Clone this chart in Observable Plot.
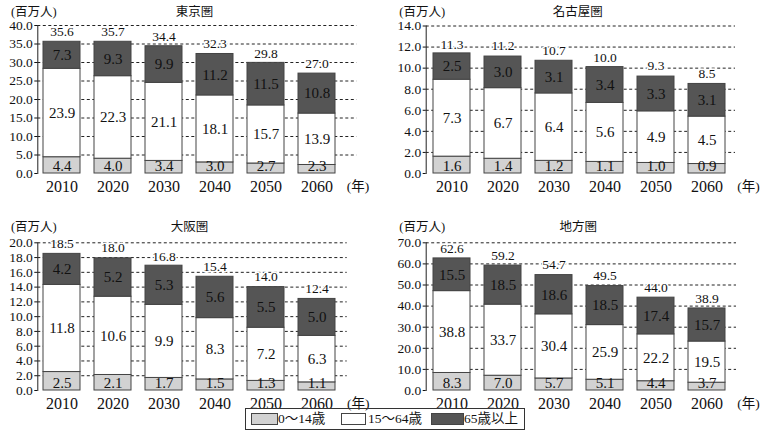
<!DOCTYPE html>
<html><head><meta charset="utf-8">
<script src="https://cdn.jsdelivr.net/npm/d3@7"></script>
<script src="https://cdn.jsdelivr.net/npm/@observablehq/plot@0.6"></script>
<style>
body{margin:0;background:#fff;}
#wrap{position:relative;width:763px;height:435px;font-family:'Liberation Serif','Noto Sans CJK JP',serif;color:#111;overflow:hidden;}
.panel{position:absolute;}
#legend{position:absolute;left:245px;top:408px;width:280px;height:22px;border:1px solid #333;font-size:13.5px;box-sizing:border-box;white-space:nowrap;}
#legend .sw{position:absolute;top:4px;height:12px;border:1px solid #444;box-sizing:border-box;}
#legend .lt{position:absolute;top:0px;line-height:20px;}
</style></head><body><div id="wrap"></div>
<script>
const FONT = "'Liberation Serif','Noto Sans CJK JP',serif";
const years = [2010, 2020, 2030, 2040, 2050, 2060];
const groups = ["0～14歳", "15～64歳", "65歳以上"];
const groupFill = ["#d2d2d2", "#ffffff", "#555555"];

const tokyoYoung = [4.4, 4.0, 3.4, 3.0, 2.7, 2.3];
const tokyoMid   = [23.9, 22.3, 21.1, 18.1, 15.7, 13.9];
const tokyoOld   = [7.3, 9.3, 9.9, 11.2, 11.5, 10.8];
const tokyoTotal = [35.6, 35.7, 34.4, 32.3, 29.8, 27.0];

const nagoyaYoung = [1.6, 1.4, 1.2, 1.1, 1.0, 0.9];
const nagoyaMid   = [7.3, 6.7, 6.4, 5.6, 4.9, 4.5];
const nagoyaOld   = [2.5, 3.0, 3.1, 3.4, 3.3, 3.1];
const nagoyaTotal = [11.3, 11.2, 10.7, 10.0, 9.3, 8.5];

const osakaYoung = [2.5, 2.1, 1.7, 1.5, 1.3, 1.1];
const osakaMid   = [11.8, 10.6, 9.9, 8.3, 7.2, 6.3];
const osakaOld   = [4.2, 5.2, 5.3, 5.6, 5.5, 5.0];
const osakaTotal = [18.5, 18.0, 16.8, 15.4, 14.0, 12.4];

const localYoung = [8.3, 7.0, 5.7, 5.1, 4.4, 3.7];
const localMid   = [38.8, 33.7, 30.4, 25.9, 22.2, 19.5];
const localOld   = [15.5, 18.5, 18.6, 18.5, 17.4, 15.7];
const localTotal = [62.6, 59.2, 54.7, 49.5, 44.0, 38.9];

const tokyoTicks  = [0, 5, 10, 15, 20, 25, 30, 35, 40];
const nagoyaTicks = [0, 2, 4, 6, 8, 10, 12, 14];
const osakaTicks  = [0, 2, 4, 6, 8, 10, 12, 14, 16, 18, 20];
const localTicks  = [0, 10, 20, 30, 40, 50, 60, 70];

const unitLabel = "(百万人)";
const yearLabel = "(年)";

const panels = [
  {title:"東京圏", young:tokyoYoung, mid:tokyoMid, old:tokyoOld, total:tokyoTotal, ticks:tokyoTicks,
   left:0, top:0, width:380, mL:37.3, mR:23.5, mT:25, mB:27, iL:6, iR:16.5, titleY:11, yearDx:1},
  {title:"名古屋圏", young:nagoyaYoung, mid:nagoyaMid, old:nagoyaOld, total:nagoyaTotal, ticks:nagoyaTicks,
   left:380, top:0, width:383, mL:45.7, mR:28, mT:25.5, mB:27, iL:7.6, iR:6, titleY:11, yearDx:13},
  {title:"大阪圏", young:osakaYoung, mid:osakaMid, old:osakaOld, total:osakaTotal, ticks:osakaTicks,
   left:0, top:215, width:380, mL:37.3, mR:33.3, mT:27.3, mB:25, iL:6, iR:6.7, titleY:11.2, yearDx:11},
  {title:"地方圏", young:localYoung, mid:localMid, old:localOld, total:localTotal, ticks:localTicks,
   left:380, top:215, width:383, mL:45.7, mR:27, mT:27.3, mB:25, iL:7, iR:6.7, titleY:11.2, yearDx:12}
];

const wrap = document.getElementById("wrap");

function build(cfg) {
  const rows = [];
  years.forEach((yr, i) => {
    rows.push({year: yr, group: groups[0], value: cfg.young[i], fill: groupFill[0]});
    rows.push({year: yr, group: groups[1], value: cfg.mid[i], fill: groupFill[1]});
    rows.push({year: yr, group: groups[2], value: cfg.old[i], fill: groupFill[2]});
  });
  const labels = years.map((yr, i) => ({
    year: yr, young: cfg.young[i], mid: cfg.mid[i], old: cfg.old[i], total: cfg.total[i],
    midPos: cfg.young[i] + cfg.mid[i] / 2,
    oldPos: cfg.young[i] + cfg.mid[i] + cfg.old[i] / 2
  }));
  const ymax = cfg.ticks[cfg.ticks.length - 1];
  const svg = Plot.plot({
    width: cfg.width, height: 200,
    marginLeft: cfg.mL, marginRight: cfg.mR, marginTop: cfg.mT, marginBottom: cfg.mB,
    style: {fontFamily: FONT, fontSize: "13px", background: "transparent", overflow: "visible", color: "#111"},
    x: {type: "band", domain: years, insetLeft: cfg.iL, insetRight: cfg.iR, paddingInner: 0.265, paddingOuter: 0, align: 0},
    y: {domain: [0, ymax]},
    marks: [
      Plot.ruleY(cfg.ticks.filter(t => t > 0), {stroke: "#222", strokeDasharray: "3,2.5", strokeWidth: 1}),
      Plot.barY(rows, Plot.stackY({x: "year", y: "value", z: "group", fill: "fill", stroke: "#444", strokeWidth: 1})),
      Plot.frame({anchor: "left", stroke: "#222"}),
      Plot.axisY({ticks: cfg.ticks, tickFormat: d => d.toFixed(1), tickSize: 3, tickPadding: 2, fontSize: 13.5, label: null}),
      Plot.axisX({tickSize: 0, tickPadding: 7, fontSize: 16, label: null, tickFormat: d => String(d)}),
      Plot.text(labels, {x: "year", y: "midPos", text: d => d.mid.toFixed(1), fontSize: 15, fill: "#111"}),
      Plot.text(labels, {x: "year", y: "oldPos", text: d => d.old.toFixed(1), fontSize: 15, fill: "#111", ariaLabel: "boxed"}),
      Plot.text(labels, {x: "year", y: () => 0, dy: -7, text: d => d.young.toFixed(1), fontSize: 15, fill: "#111", ariaLabel: "boxed"}),
      Plot.text(labels, {x: "year", y: "total", dy: -10, text: d => d.total.toFixed(1), fontSize: 13.5, fill: "#111", stroke: "white", strokeWidth: 3}),
      Plot.text([cfg.title], {frameAnchor: "top", textAnchor: "middle", lineAnchor: "middle", dx: -3, dy: cfg.titleY - cfg.mT, fontSize: 12.5, fill: "#111"}),
      Plot.text([unitLabel], {frameAnchor: "top-left", textAnchor: "middle", lineAnchor: "middle", dx: -4, dy: cfg.titleY - cfg.mT, fontSize: 12.5, fill: "#111"}),
      Plot.text([yearLabel], {frameAnchor: "bottom-right", textAnchor: "middle", lineAnchor: "middle", dx: cfg.yearDx, dy: 13, fontSize: 13.5, fill: "#111"})
    ]
  });
  const div = document.createElement("div");
  div.className = "panel";
  div.style.left = cfg.left + "px";
  div.style.top = cfg.top + "px";
  div.appendChild(svg);
  wrap.appendChild(div);
  svg.querySelectorAll('g[aria-label="boxed"] text').forEach(t => {
    const b = t.getBBox();
    const r = document.createElementNS("http://www.w3.org/2000/svg", "rect");
    r.setAttribute("x", b.x - 1.5);
    r.setAttribute("y", b.y + 0.5);
    r.setAttribute("width", b.width + 3);
    r.setAttribute("height", b.height - 1);
    r.setAttribute("fill", "white");
    r.setAttribute("stroke", "none");
    const tr = t.getAttribute("transform");
    if (tr) r.setAttribute("transform", tr);
    t.parentNode.insertBefore(r, t);
  });
}
panels.forEach(build);

const legendPos = [[5, 27, 32], [95, 25, 122], [185, 33, 218]];
const legend = document.createElement("div");
legend.id = "legend";
groups.forEach((g, i) => {
  const sw = document.createElement("span");
  sw.className = "sw";
  sw.style.left = legendPos[i][0] + "px";
  sw.style.width = legendPos[i][1] + "px";
  sw.style.background = groupFill[i];
  legend.appendChild(sw);
  const lt = document.createElement("span");
  lt.className = "lt";
  lt.style.left = legendPos[i][2] + "px";
  lt.textContent = g;
  legend.appendChild(lt);
});
wrap.appendChild(legend);
</script>
</body></html>
